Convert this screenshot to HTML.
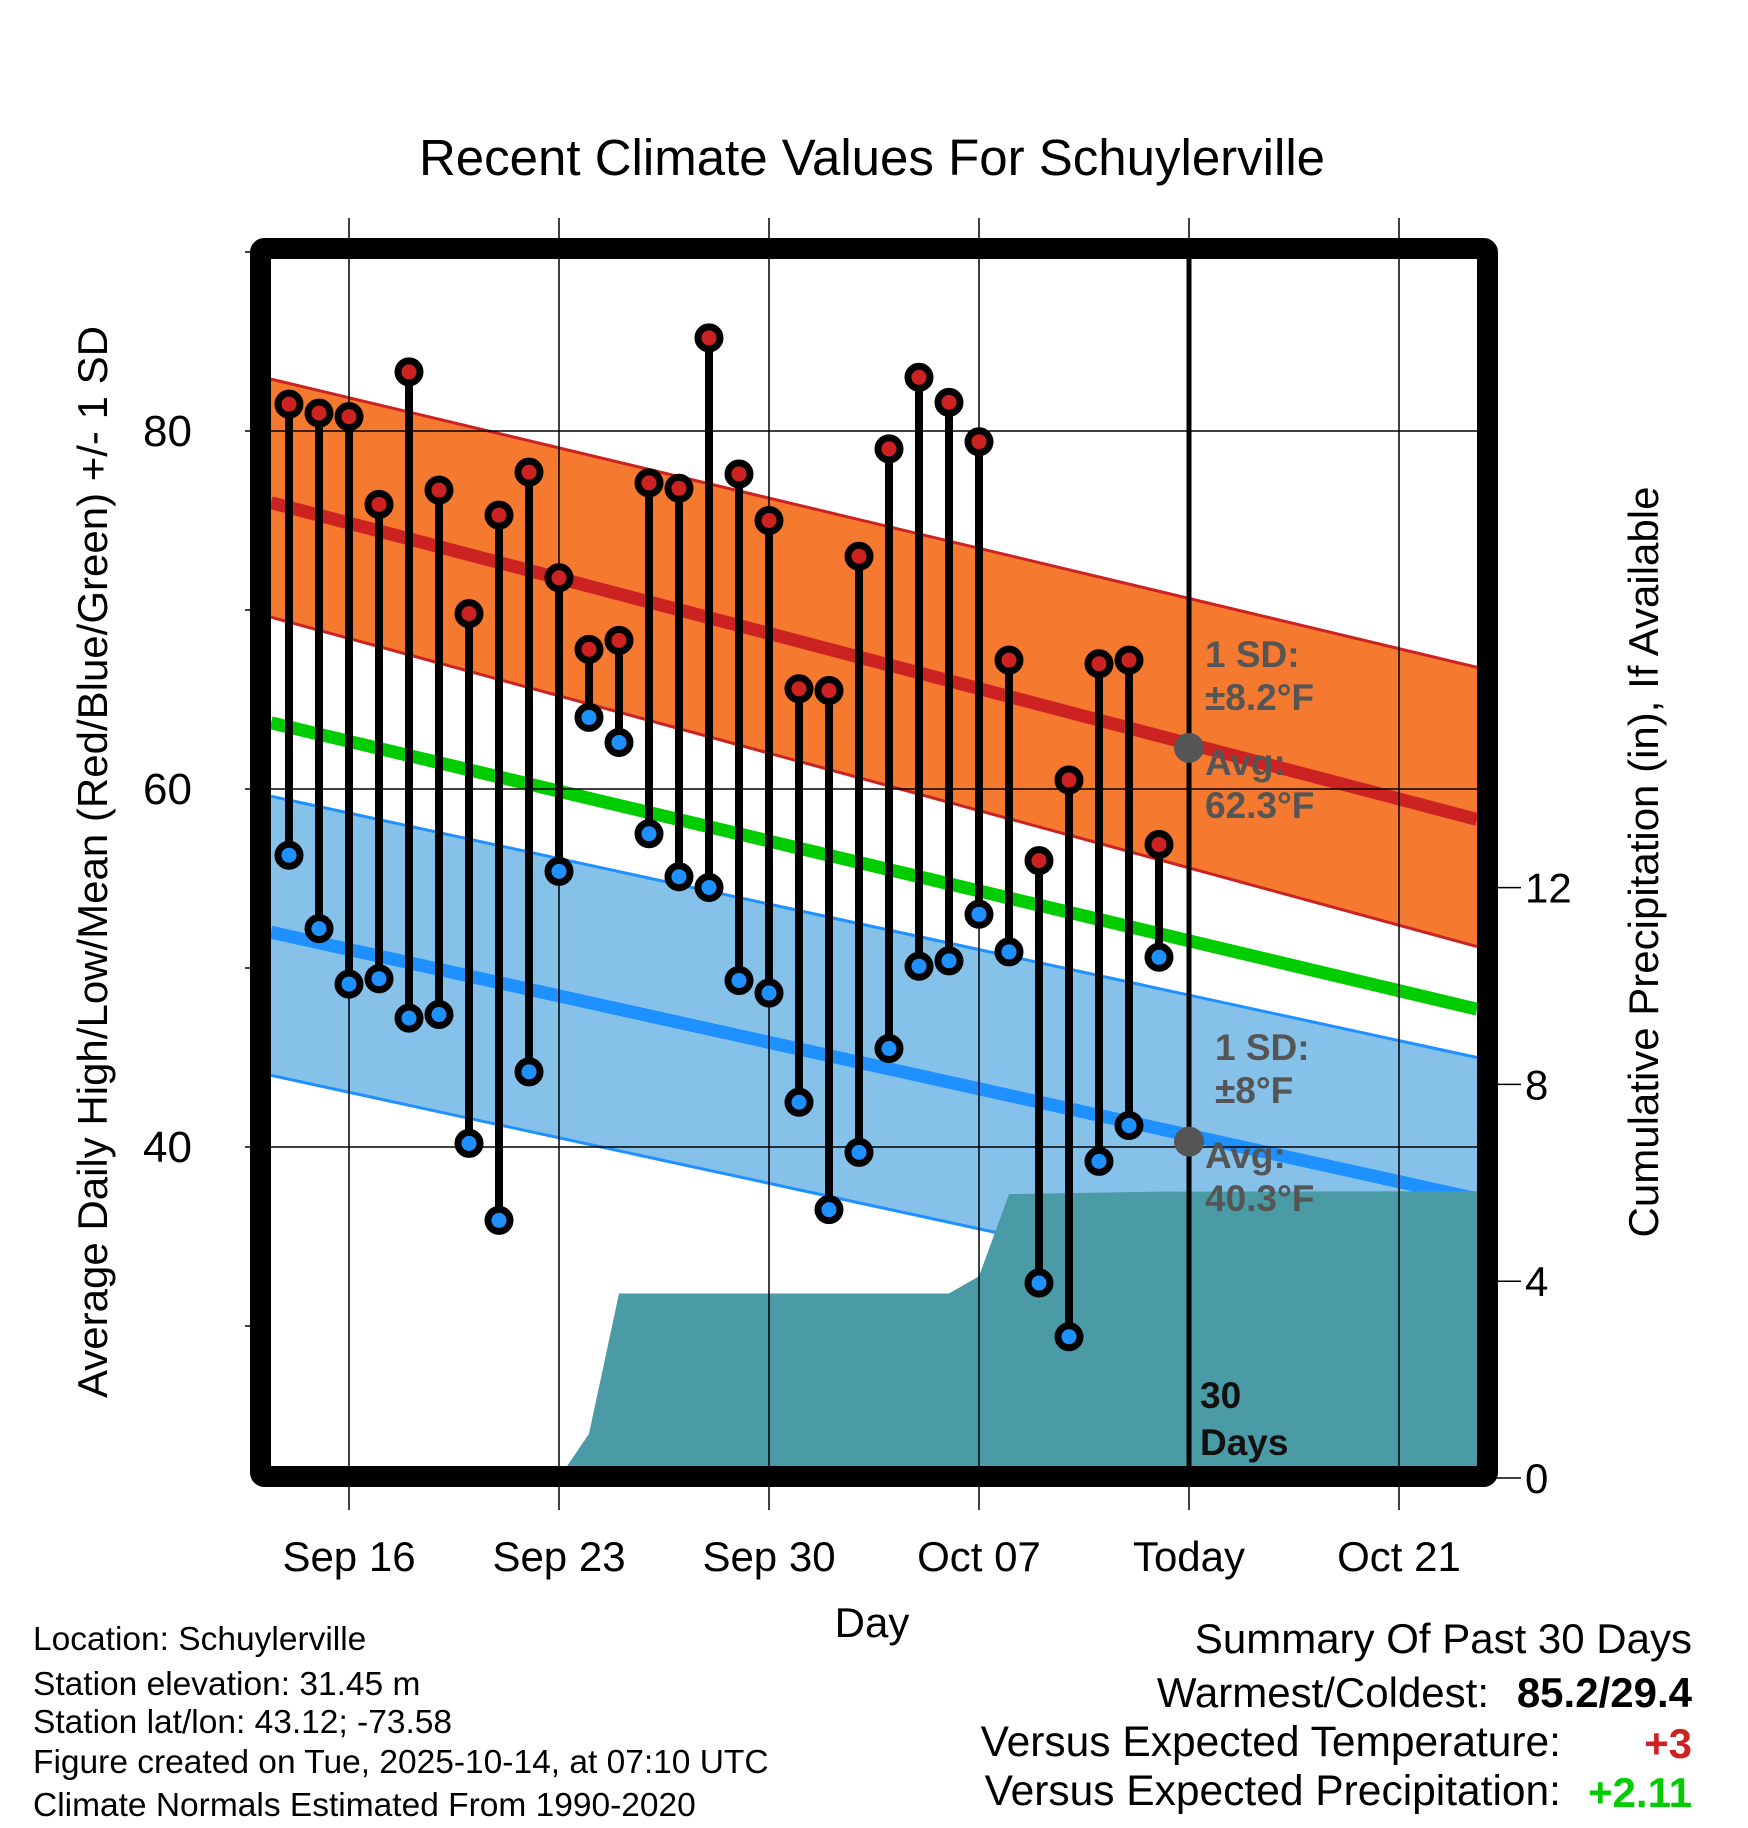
<!DOCTYPE html>
<html><head><meta charset="utf-8"><style>
html,body{margin:0;padding:0;background:#fff;}
svg{display:block;font-family:"Liberation Sans",sans-serif;}
</style></head><body>
<svg id="chart" width="1748" height="1828" viewBox="0 0 1748 1828"></svg>
<script>
// ---- data ----
const days = ["Sep 14","Sep 15","Sep 16","Sep 17","Sep 18","Sep 19","Sep 20","Sep 21","Sep 22","Sep 23","Sep 24","Sep 25","Sep 26","Sep 27","Sep 28","Sep 29","Sep 30","Oct 01","Oct 02","Oct 03","Oct 04","Oct 05","Oct 06","Oct 07","Oct 08","Oct 09","Oct 10","Oct 11","Oct 12","Oct 13"];
const highs = [81.5,81.0,80.8,75.9,83.3,76.7,69.8,75.3,77.7,71.8,67.8,68.3,77.1,76.8,85.2,77.6,75.0,65.6,65.5,73.0,79.0,83.0,81.6,79.4,67.2,56.0,60.5,67.0,67.2,56.9];
const lows = [56.3,52.2,49.1,49.4,47.2,47.4,40.2,35.9,44.2,55.4,64.0,62.6,57.5,55.1,54.5,49.3,48.6,42.5,36.5,39.7,45.5,50.1,50.4,53.0,50.9,32.4,29.4,39.2,41.2,50.6];
const precipDays = [9,10,11,22,23,24,29,40.5];
const precipVals = [0,0.9,3.75,3.75,4.1,5.77,5.82,5.83];
const normDays = [-0.6,39.6];
const hiUpper = [82.9,66.8];
const hiAvg = [76.0,58.3];
const hiLower = [69.6,51.2];
const meanAvg = [63.7,47.7];
const loUpper = [59.6,45.0];
const loAvg = [52.0,37.1];
const loLower = [44.0,29.4];
const todayAvgs = [62.3,40.3];
const xTickDays = [2,9,16,23,30,37];
const xTickLabels = ["Sep 16","Sep 23","Sep 30","Oct 07","Today","Oct 21"];
const yTicks = [40,60,80];
const yMinor = [30,50,70,90];
const pTicks = [0,4,8,12];
const todayDay = 30;

// ---- axes ----
const L=271,R=1478,T=259,B=1468;
const X = d => 289 + d*30;
const Y = v => 431 + (80 - v)*17.9;
const P = v => 1478 - v*49.2;
const NS="http://www.w3.org/2000/svg";
const svg=document.getElementById('chart');
function mk(tag,attrs,parent){const e=document.createElementNS(NS,tag);for(const k in attrs)e.setAttribute(k,attrs[k]);(parent||svg).appendChild(e);return e;}
function txt(s,attrs,parent){const e=mk('text',attrs,parent);e.textContent=s;return e;}

const defs=mk('defs',{});
const cp=mk('clipPath',{id:'clip'},defs);
mk('rect',{x:L,y:T,width:R-L,height:B-T},cp);
const plot=mk('g',{'clip-path':'url(#clip)'});



function band(up,lo,fill,name){
  const pts=normDays.map((d,i)=>X(d)+','+Y(up[i])).concat(normDays.slice().reverse().map((d,i)=>X(d)+','+Y(lo[lo.length-1-i])));
  const e=mk('polygon',{points:pts.join(' '),fill:fill},plot);
  
  
}
function line(vals,color,w,name){
  const e=mk('polyline',{points:normDays.map((d,i)=>X(d)+','+Y(vals[i])).join(' '),fill:'none',stroke:color,'stroke-width':w},plot);
  
  
}
band(hiUpper,hiLower,'#F5792E','high-sd-band');
line(hiUpper,'#CC2222',3,'high-upper-sd-line');
line(hiLower,'#CC2222',3,'high-lower-sd-line');
band(loUpper,loLower,'#85C1E9','low-sd-band');
line(loUpper,'#1E90FF',3,'low-upper-sd-line');
line(loLower,'#1E90FF',3,'low-lower-sd-line');
line(hiAvg,'#CC2222',13,'high-avg-line');
line(meanAvg,'#00CC00',13,'mean-avg-line');
line(loAvg,'#1E90FF',13,'low-avg-line');

const pp=[X(precipDays[0])+','+B].concat(precipDays.map((d,i)=>X(d)+','+P(precipVals[i]))).concat([X(precipDays[precipDays.length-1])+','+B]);
const pa=mk('polygon',{points:pp.join(' '),fill:'#4A9BA5'},plot);



xTickDays.forEach(d=>{
  const g=mk('line',{x1:X(d),x2:X(d),y1:218,y2:1510,stroke:'#000','stroke-width':1.5});
  
  
});
yTicks.forEach(v=>{
  const g=mk('line',{x1:245,x2:R,y1:Y(v),y2:Y(v),stroke:'#000','stroke-width':1.5});
  
  
});
yMinor.forEach(v=>{
  const g=mk('line',{x1:245,x2:L,y1:Y(v),y2:Y(v),stroke:'#000','stroke-width':1.5});
  
  
});
pTicks.forEach(v=>{
  const g=mk('line',{x1:R,x2:1521,y1:P(v),y2:P(v),stroke:'#000','stroke-width':1.5});
  
  
  const t=txt(String(v),{x:1525,y:P(v)+15,'font-size':42});
  
  
});

const tl=mk('line',{x1:X(todayDay),x2:X(todayDay),y1:T,y2:B,stroke:'#000','stroke-width':5});



days.forEach((d,i)=>{
  const x=X(i);
  const s=mk('line',{x1:x,x2:x,y1:Y(highs[i]),y2:Y(lows[i]),stroke:'#000','stroke-width':8});
  
  
  const h=mk('circle',{cx:x,cy:Y(highs[i]),r:11,fill:'#CC2222',stroke:'#000','stroke-width':7});
  
  
  const l=mk('circle',{cx:x,cy:Y(lows[i]),r:11,fill:'#1E90FF',stroke:'#000','stroke-width':7});
  
  
});

const m1=mk('circle',{cx:X(todayDay),cy:Y(todayAvgs[0]),r:15,fill:'#555'});


const m2=mk('circle',{cx:X(todayDay),cy:Y(todayAvgs[1]),r:15,fill:'#555'});



const ann=[["1 SD:",1205,667],["±8.2°F",1205,710],["Avg:",1205,775],["62.3°F",1205,818],["1 SD:",1215,1060],["±8°F",1215,1103],["Avg:",1205,1168],["40.3°F",1205,1211]];
ann.forEach(a=>{
  const t=txt(a[0],{x:a[1],y:a[2],'font-size':37,'font-weight':'bold',fill:'#555'});
  
  
});
const d30=txt('30',{x:1200,y:1408,'font-size':37,'font-weight':'bold',fill:'#111'});


const dd=txt('Days',{x:1200,y:1455,'font-size':37,'font-weight':'bold',fill:'#111'});



const fr=mk('rect',{x:260.5,y:248.5,width:1227,height:1228,fill:'none',stroke:'#000','stroke-width':21,rx:4});



xTickDays.forEach((d,i)=>{
  const t=txt(xTickLabels[i],{x:X(d),y:1571,'font-size':42,'text-anchor':'middle'});
  
  
});
yTicks.forEach(v=>{
  const t=txt(String(v),{x:192,y:Y(v)+15,'font-size':44,'text-anchor':'end'});
  
  
});

let e;
e=txt('Recent Climate Values For Schuylerville',{x:872,y:175,'font-size':51,'text-anchor':'middle'});


e=txt('Day',{x:872,y:1637,'font-size':42,'text-anchor':'middle'});


e=txt('Average Daily High/Low/Mean (Red/Blue/Green) +/- 1 SD',{x:0,y:0,'font-size':42,'text-anchor':'middle',transform:'translate(107,862) rotate(-90)'});


e=txt('Cumulative Precipitation (in), If Available',{x:0,y:0,'font-size':42,'text-anchor':'middle',transform:'translate(1658,862) rotate(-90)'});


const foot=['Location: Schuylerville','Station elevation: 31.45 m','Station lat/lon: 43.12; -73.58','Figure created on Tue, 2025-10-14, at 07:10 UTC','Climate Normals Estimated From 1990-2020'];
const fy=[1650,1695,1733,1773,1816];
foot.forEach((f,i)=>{
  const t=txt(f,{x:33,y:fy[i],'font-size':33.5});
  
  
});
e=txt('Summary Of Past 30 Days',{x:1692,y:1653,'font-size':42,'text-anchor':'end'});


e=txt('Warmest/Coldest:',{x:1489,y:1707,'font-size':42,'text-anchor':'end'});


e=txt('85.2/29.4',{x:1692,y:1707,'font-size':42,'font-weight':'bold','text-anchor':'end'});


e=txt('Versus Expected Temperature:',{x:1561,y:1756,'font-size':42.5,'text-anchor':'end'});


e=txt('+3',{x:1692,y:1758,'font-size':42,'font-weight':'bold','text-anchor':'end',fill:'#CC2222'});


e=txt('Versus Expected Precipitation:',{x:1561,y:1805,'font-size':42.5,'text-anchor':'end'});


e=txt('+2.11',{x:1692,y:1807,'font-size':42,'font-weight':'bold','text-anchor':'end',fill:'#00CC00'});


</script>
</body></html>
